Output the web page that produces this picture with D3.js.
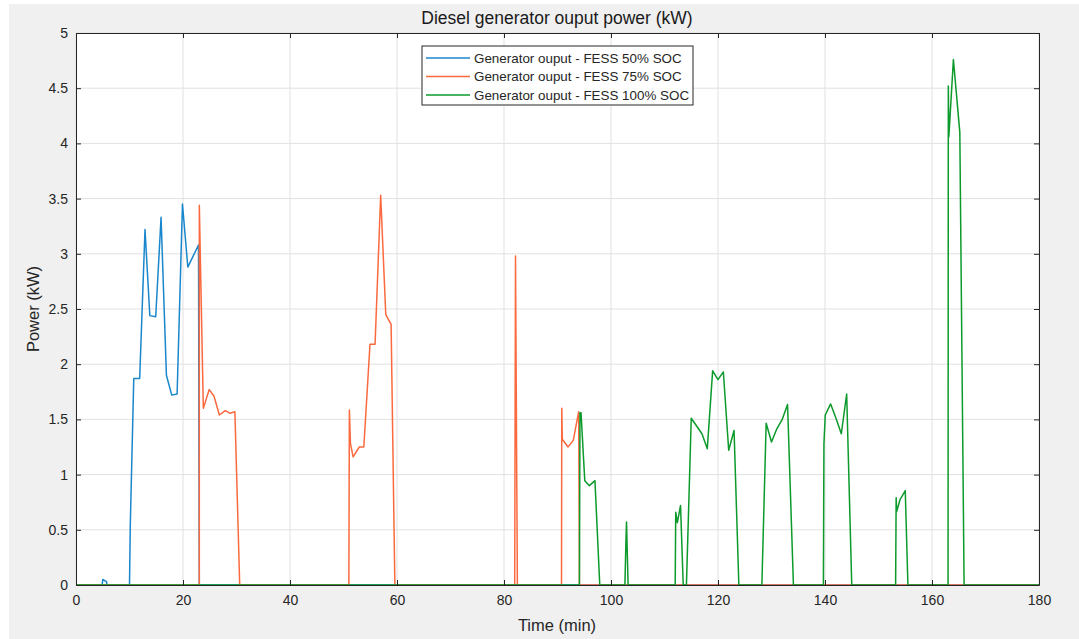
<!DOCTYPE html>
<html><head><meta charset="utf-8">
<script src="https://cdn.jsdelivr.net/npm/d3@7"></script>
<style>body{margin:0;background:#fff}svg{display:block}text{font-family:"Liberation Sans",Arial,sans-serif}</style>
</head><body><svg id="c" width="1079" height="639"></svg>
<script>
const xTicks = [0,20,40,60,80,100,120,140,160,180];
const yTicks = [0,0.5,1,1.5,2,2.5,3,3.5,4,4.5,5];
const seriesNames = ["Generator ouput - FESS 50% SOC","Generator ouput - FESS 75% SOC","Generator ouput - FESS 100% SOC"];
const seriesColors = ["#1a87cc","#fb6a3e","#0c9a2c"];
const soc50 = [[0,0],[4.9,0],[5,0.05],[5.7,0.03],[5.8,0],[10,0],[10.15,0.55],[10.8,1.87],[11.9,1.87],[12.9,3.22],[13.8,2.44],[14.9,2.43],[15.9,3.33],[16.9,1.9],[17.9,1.72],[18.9,1.73],[19.9,3.45],[20.9,2.88],[22.9,3.08],[23.05,0],[180,0]];
const soc75 = [[0,0],[23.05,0],[23.05,3.44],[23.8,1.6],[24.9,1.77],[25.8,1.71],[26.8,1.54],[27.9,1.58],[28.8,1.555],[29.7,1.57],[30.6,0],[51,0],[51.1,1.585],[51.3,1.28],[51.8,1.16],[52.95,1.25],[53.8,1.25],[54.95,2.18],[55.9,2.18],[56.95,3.53],[57.9,2.45],[58.9,2.36],[59.6,0],[82,0],[82.15,2.98],[82.5,0],[90.75,0],[90.8,1.6],[90.9,1.32],[91.96,1.25],[92.95,1.31],[93.96,1.57],[94.1,0],[180,0]];
const soc100 = [[0,0],[94.1,0],[94.2,1.56],[94.4,1.56],[95.1,0.945],[95.95,0.9],[97.0,0.945],[97.9,0],[102.6,0],[102.8,0.41],[102.9,0.57],[103.2,0],[112.0,0],[112.1,0.66],[112.4,0.565],[113.0,0.72],[113.5,0],[114.1,0],[115.0,1.51],[117.0,1.37],[118.0,1.235],[119.0,1.94],[120.0,1.86],[121.0,1.93],[122.0,1.22],[123.0,1.4],[123.9,0],[128.2,0],[129.0,1.465],[130.0,1.295],[131.0,1.415],[132.0,1.5],[133.0,1.635],[134.1,0],[139.7,0],[139.8,1.28],[140.05,1.54],[141.05,1.64],[142.05,1.51],[143.05,1.37],[144.05,1.73],[145.0,0],[153.2,0],[153.3,0.79],[153.4,0.665],[154.0,0.77],[155.0,0.855],[155.5,0],[163.0,0],[163.05,4.52],[163.15,4.06],[164.0,4.76],[165.2,4.1],[166.0,0],[180,0]];
const allSeries = [soc50, soc75, soc100];

const svg = d3.select("#c");
svg.append("rect").attr("x",9).attr("y",4).attr("width",1070).attr("height",635).attr("fill","#f0f0f0");
const L=76,T=33,R=1039,B=585;
const x = d3.scaleLinear().domain([0,180]).range([L,R]);
const y = d3.scaleLinear().domain([0,5]).range([B,T]);
svg.append("rect").attr("x",L).attr("y",T).attr("width",R-L).attr("height",B-T).attr("fill","#fff");
svg.append("g").selectAll("line").data(xTicks).join("line")
 .attr("x1",d=>x(d)).attr("x2",d=>x(d)).attr("y1",T).attr("y2",B).attr("stroke","#e1e1e1");
svg.append("g").selectAll("line").data(yTicks).join("line")
 .attr("y1",d=>y(d)).attr("y2",d=>y(d)).attr("x1",L).attr("x2",R).attr("stroke","#e1e1e1");
const line = d3.line().x(d=>x(d[0])).y(d=>y(d[1]));
allSeries.forEach((s,i)=>{
  svg.append("path").datum(s).attr("d",line).attr("fill","none").attr("stroke",seriesColors[i]).attr("stroke-width",1.5).attr("stroke-linejoin","round");
});
const xa = svg.append("g").attr("transform",`translate(0,${B})`).call(d3.axisBottom(x).tickValues(xTicks).tickSizeInner(-5).tickSizeOuter(0).tickPadding(10));
const xt = svg.append("g").attr("transform",`translate(0,${T})`).call(d3.axisTop(x).tickValues(xTicks).tickSizeInner(-5).tickSizeOuter(0).tickFormat(""));
const ya = svg.append("g").attr("transform",`translate(${L},0)`).call(d3.axisLeft(y).tickValues(yTicks).tickSizeInner(-5).tickSizeOuter(0).tickPadding(8).tickFormat(d=>String(d)));
const yr = svg.append("g").attr("transform",`translate(${R},0)`).call(d3.axisRight(y).tickValues(yTicks).tickSizeInner(-5).tickSizeOuter(0).tickFormat(""));
[xa,xt,ya,yr].forEach(g=>{
  g.selectAll("path").attr("stroke","#262626");
  g.selectAll("line").attr("stroke","#262626");
  g.selectAll("text").attr("fill","#262626").style("font-size","14px");
});
svg.append("text").attr("x",557).attr("y",24).attr("text-anchor","middle").attr("fill","#1a1a1a").style("font-size","17.5px").text("Diesel generator ouput power (kW)");
svg.append("text").attr("x",557).attr("y",631).attr("text-anchor","middle").attr("fill","#262626").style("font-size","16.5px").text("Time (min)");
svg.append("text").attr("transform","translate(39,309) rotate(-90)").attr("text-anchor","middle").attr("fill","#262626").style("font-size","16.5px").text("Power (kW)");
const lg = svg.append("g");
lg.append("rect").attr("x",422).attr("y",46).attr("width",271).attr("height",59).attr("fill","#fff").attr("stroke","#262626").attr("stroke-width",1);
seriesNames.forEach((n,i)=>{
  const yy = 58 + i*18.5;
  lg.append("line").attr("x1",426).attr("x2",470).attr("y1",yy).attr("y2",yy).attr("stroke",seriesColors[i]).attr("stroke-width",1.4);
  lg.append("text").attr("x",474).attr("y",yy+4.8).attr("fill","#262626").style("font-size","13.4px").text(n);
});
</script></body></html>
